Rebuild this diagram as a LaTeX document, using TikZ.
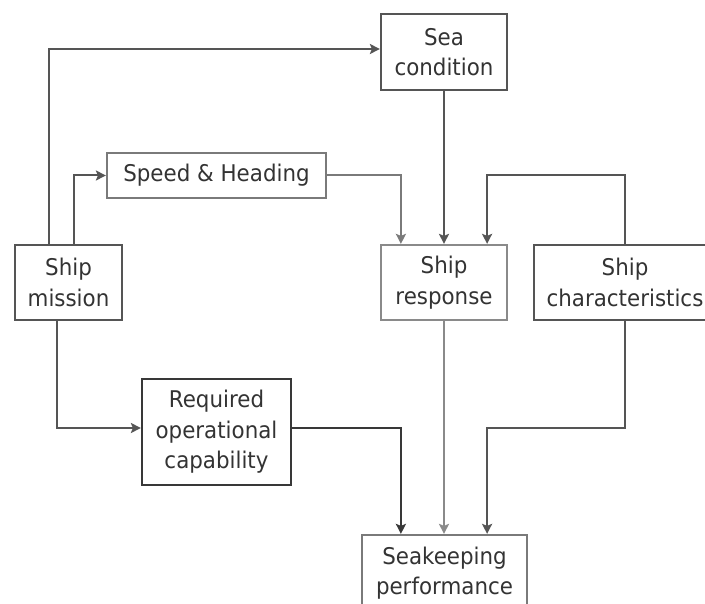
\documentclass[tikz,border=0pt]{standalone}
\usepackage{fontspec}
\setmainfont{DejaVu Sans}[FakeStretch=0.93]
\usetikzlibrary{arrows.meta}
\definecolor{lineA}{HTML}{555555}
\definecolor{lineB}{HTML}{7A7A7A}
\definecolor{lineC}{HTML}{383838}
\definecolor{lineD}{HTML}{8A8A8A}
\definecolor{txt}{HTML}{333333}
\begin{document}
\begin{tikzpicture}[x=1pt,y=-1pt,
  box/.style={draw=lineA,line width=2.2pt,align=center,text=txt,inner sep=0pt,
    font=\fontsize{23}{30.5}\selectfont},
  conn/.style={line width=2pt,draw=lineA,-{Stealth[length=10pt,width=10pt,inset=2pt]}}]
\useasboundingbox (0,0) rectangle (705,604);
\clip (0,0) rectangle (705,604);
\node[box,minimum width=126pt,minimum height=76pt] (sea) at (444,52) {Sea\\condition};
\node[box,draw=lineB,minimum width=219pt,minimum height=45pt] (speed) at (216.5,175.5) {Speed \& Heading};
\node[box,minimum width=107pt,minimum height=75pt] (mission) at (68.5,282.5) {Ship\\mission};
\node[box,draw=lineD,minimum width=126pt,minimum height=75pt] (resp) at (444,282.5) {Ship\\response};
\node[box,minimum width=182pt,minimum height=75pt] (char) at (625,282.5) {Ship\\characteristics};
\node[box,draw=lineC,minimum width=149pt,minimum height=106pt] (req) at (216.5,432) {Required\\operational\\capability};
\node[box,draw=lineB,minimum width=165pt,minimum height=76pt] (seak) at (444.5,573) {Seakeeping\\performance};
\coordinate (reqout) at ([yshift=4pt]req.east);

\draw[conn] ([xshift=35pt]mission.north west) |- ([yshift=3pt]sea.west);
\draw[conn] ([xshift=60pt]mission.north west) |- (speed.west);
\draw[conn,draw=lineB] (speed.east) -| ([xshift=21pt]resp.north west);
\draw[conn] (sea.south) -- (resp.north);
\draw[conn] (char.north) -- (char.north |- speed.east) -| ([xshift=-21pt]resp.north east);
\draw[conn] ([xshift=43pt]mission.south west) |- ([yshift=4pt]req.west);
\draw[conn,draw=lineC] (reqout) -| ([xshift=40pt]seak.north west);
\draw[conn,draw=lineD] (resp.south) -- (resp.south |- seak.north);
\draw[conn] (char.south) -- (char.south |- reqout) -| ([xshift=-41pt]seak.north east);
\end{tikzpicture}
\end{document}
